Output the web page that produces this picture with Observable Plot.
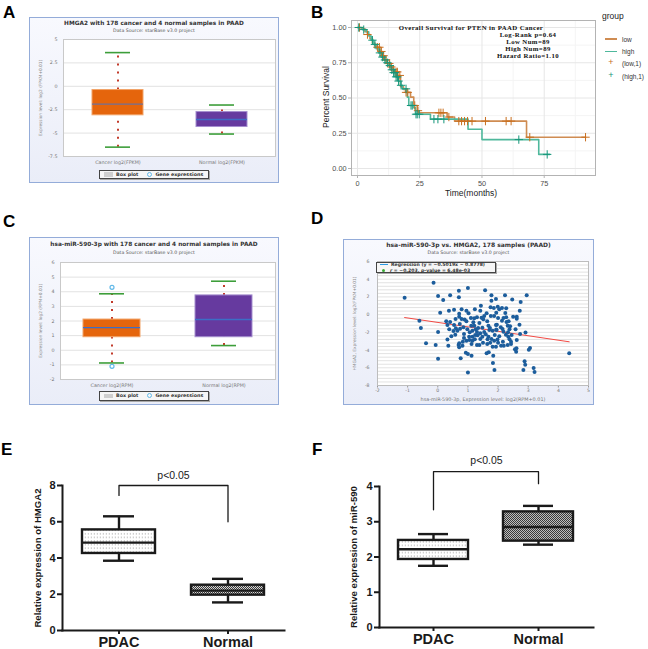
<!DOCTYPE html>
<html><head><meta charset="utf-8">
<script src="https://cdn.jsdelivr.net/npm/d3@7"></script>
<script src="https://cdn.jsdelivr.net/npm/@observablehq/plot@0.6"></script>
<style>
html,body{margin:0;padding:0;background:#fff;overflow:hidden;}
#root{position:relative;width:648px;height:649px;overflow:hidden;font-family:"Liberation Sans",Arial,sans-serif;}
.t{position:absolute;white-space:nowrap;line-height:1;}
.frame{position:absolute;box-sizing:border-box;border:1px solid #94acd9;background:linear-gradient(180deg,#f8f9fe 0%,#eaedf8 100%);}
.lg{position:absolute;box-sizing:border-box;border:1px solid #444;background:#f6f6f6;font:bold 4.8px "DejaVu Sans",sans-serif;color:#333;display:flex;align-items:center;padding:0 4px;box-shadow:1px 1px 0 #aaa;}
.letter{position:absolute;font:bold 17px "Liberation Sans",Arial,sans-serif;line-height:17px;color:#000;}
</style></head>
<body><div id="root"></div>
<script>
// ---------------- DATA ----------------
// Panel A: HMGA2 (starBase)
const aGroups = ["Cancer log2(FPKM)", "Normal log2(FPKM)"];
const aLow = [-6.5, -5.1];
const aQ1 = [-3.1, -4.35];
const aMedian = [-1.9, -3.55];
const aQ3 = [-0.4, -2.75];
const aHigh = [3.6, -2.0];
const aTicks = [5, 2.5, 0, -2.5, -5, -7.5];

// Panel C: hsa-miR-590-3p (starBase)
const cGroups = ["Cancer log2(RPM)", "Normal log2(RPM)"];
const cLow = [-0.87, 0.32];
const cQ1 = [0.89, 0.89];
const cMedian = [1.55, 2.1];
const cQ3 = [2.1, 3.75];
const cHigh = [3.86, 4.72];
const cOutGroup = ["Cancer log2(RPM)", "Cancer log2(RPM)"];
const cOutValue = [4.3, -1.1];
const cTicks = [6, 5, 4, 3, 2, 1, 0, -1, -2];

// Panel B: Kaplan-Meier (step times / survival after step)
const lowTime = [0, 1.5, 3, 4, 5, 6, 7, 8, 9, 10, 11, 12, 13, 14, 15, 16.2, 17.3, 18.5, 19.3, 21.3, 22.6, 24, 24.6, 36, 39, 67.9, 91.6];
const lowSurv = [1, 0.99, 0.97, 0.95, 0.92, 0.89, 0.87, 0.86, 0.83, 0.80, 0.77, 0.745, 0.72, 0.70, 0.685, 0.66, 0.58, 0.56, 0.54, 0.506, 0.447, 0.41, 0.395, 0.365, 0.336, 0.222, 0.222];
const highTime = [0, 2, 3.5, 4.5, 5.5, 6.5, 7.5, 8.5, 9.5, 10.5, 11.5, 12.5, 13.5, 14.5, 15.5, 16.3, 17.3, 18, 20, 20.6, 22.6, 23.3, 29.3, 44.4, 50, 72.8, 77.2];
const highSurv = [1, 0.985, 0.97, 0.94, 0.91, 0.88, 0.85, 0.82, 0.79, 0.77, 0.75, 0.73, 0.70, 0.68, 0.65, 0.62, 0.59, 0.565, 0.506, 0.447, 0.43, 0.385, 0.35, 0.278, 0.205, 0.10, 0.10];
const lowCensor = [0.8, 4, 8, 8.8, 9.6, 10.5, 11.5, 12.8, 13.6, 14.5, 15.5, 16, 17, 19.5, 20.2, 23, 24.3, 32.7, 33.5, 34.4, 36.7, 40.7, 41.8, 43, 44.2, 46, 51.4, 59.7, 61.7, 69.2, 91.6];
const highCensor = [0.5, 2.5, 6, 7, 9, 10, 11, 12, 13, 13.8, 14.5, 15, 15.5, 16, 16.5, 17.5, 19.5, 21.5, 22, 23.5, 24, 24.8, 30.7, 32.3, 34.7, 64.8, 76.2];
const kmXTicks = [0, 25, 50, 75];
const kmYTicks = [0, 0.25, 0.5, 0.75, 1];

// Panel D: scatter miR-590-3p (x) vs HMGA2 (y)
const mirX = [-1.1,-0.14,0.01,0.18,0.41,0.70,0.70,1.0,1.57,1.78,2.23,2.47,2.95,2.75,1.78,1.93,0.08,0.37,0.54,0.79,0.95,1.23,1.43,1.41,1.75,1.86,1.99,2.13,2.27,2.72,1.62,1.02,0.71,2.62,2.62,-0.61,-0.56,-0.39,-0.07,0.01,0.01,0.28,0.32,0.38,0.41,0.54,0.45,0.35,0.69,0.71,0.82,0.76,0.93,1.0,1.12,1.0,0.89,0.85,0.59,0.71,0.79,0.73,0.60,0.74,0.52,0.87,0.65,1.04,1.06,1.15,1.11,1.21,1.26,1.30,1.34,1.32,1.23,1.15,1.30,1.38,1.50,1.64,1.74,1.82,1.93,1.62,1.69,1.84,1.83,1.88,2.10,2.19,2.32,2.38,2.43,2.56,2.60,2.61,2.88,2.90,2.84,3.06,3.02,3.18,3.21,4.36,2.91,2.73,2.71,2.58,2.38,2.33,2.34,2.26,2.32,2.28,2.13,2.18,2.27,2.00,1.96,2.09,1.95,1.89,1.82,1.71,1.68,1.64,1.76,1.87,1.51,1.54,1.45,1.38,1.48,1.54,1.59,1.68,1.78,1.65,1.48,1.41,1.87,1.98,2.0,2.16,2.04,2.18,1.10,1.21,1.18,0.95,0.98,0.95,0.83,0.71,0.32,1.12,2.15,2.45,2.40,1.94,1.73,1.93,1.41,1.24,1.15,1.05,0.87,0.58,2.04,2.50,1.94,2.24,2.35,2.43,2.62,1.30];
const hmgY = [1.9,3.6,2.1,1.66,2.2,2.7,1.96,3.0,2.75,2.2,2.2,1.7,2.18,1.43,1.58,1.77,0.22,0.45,0.56,0.6,0.45,0.6,1.0,0.45,0.83,0.75,0.9,0.75,0.72,0.45,0.15,0.15,0.11,-0.23,-0.45,-0.68,-1.5,-3.24,-3.43,-1.96,-4.97,-0.75,-1.17,-1.66,-0.83,-1.17,-2.45,-3.5,-3.43,-3.69,-3.5,-4.93,-4.29,-4.44,-4.63,-6.52,-0.56,-1.43,-0.49,-0.23,-0.49,-1.05,-1.54,-1.58,-1.85,-2.18,-1.81,-2.49,-2.0,-1.81,-1.24,-1.24,-1.66,-1.96,-1.5,-2.34,-2.79,-2.94,-3.43,-3.43,-3.16,-3.31,-3.16,-3.62,-3.62,-4.37,-4.26,-4.63,-5.46,-6.25,-3.5,-3.5,-3.43,-2.79,-3.05,-3.92,-4.18,-3.8,-5.27,-5.65,-6.25,-3.77,-3.95,-6.03,-6.48,-4.37,-2.03,-2.18,-1.13,-1.66,-1.66,-2.0,-2.49,-2.26,-1.24,-0.83,-0.68,-0.38,-0.30,-0.38,-1.13,-1.43,-1.73,-2.30,-1.81,-1.73,-1.24,-0.75,-0.15,-0.15,-0.53,-0.15,-0.34,-0.94,-1.47,-1.96,-2.22,-2.49,-2.75,-2.79,-2.49,-2.11,-2.94,-2.82,-3.16,-3.05,-2.45,-1.92,-0.38,-0.41,-0.87,-0.75,-1.66,-2.94,-3.05,-3.24,-2.82,-3.31,-1.62,-2.3,-1.32,-1.69,-1.51,-1.17,-2.75,-2.30,-2.49,-2.86,-2.64,-2.26,0.6,-0.23,0.22,0.19,-0.75,-3.31,-2.86,-0.30];
const regSlope = -0.5019;
const regIntercept = -0.8778;
const dXTicks = [-2, -1, 0, 1, 2, 3, 4, 5];
const dYTicks = [6, 4, 2, 0, -2, -4, -6, -8];

// Panel E: HMGA2 qPCR
const eGroups = ["PDAC", "Normal"];
const eLow = [3.85, 1.55];
const eQ1 = [4.25, 1.95];
const eMedian = [4.85, 2.2];
const eQ3 = [5.55, 2.5];
const eHigh = [6.3, 2.85];
const eTicks = [0, 2, 4, 6, 8];

// Panel F: miR-590 qPCR
const fGroups = ["PDAC", "Normal"];
const fLow = [1.75, 2.35];
const fQ1 = [1.93, 2.45];
const fMedian = [2.22, 2.85];
const fQ3 = [2.47, 3.28];
const fHigh = [2.65, 3.45];
const fTicks = [0, 1, 2, 3, 4];

// ---------------- HELPERS ----------------
const root = document.getElementById("root");
function addText(str, x, y, css, anchor = "middle", rot = 0) {
  const d = document.createElement("div");
  d.className = "t";
  d.textContent = str;
  const tx = anchor === "middle" ? "-50%" : anchor === "end" ? "-100%" : "0";
  d.style.cssText += `left:${x}px;top:${y}px;transform:translate(${tx},-50%)${rot ? ` rotate(${rot}deg)` : ""};${css}`;
  root.appendChild(d);
  return d;
}
function addDiv(cls, x, y, w, h, html = "") {
  const d = document.createElement("div");
  d.className = cls;
  d.style.left = x + "px"; d.style.top = y + "px";
  if (w != null) d.style.width = w + "px";
  if (h != null) d.style.height = h + "px";
  d.innerHTML = html;
  root.appendChild(d);
  return d;
}
function addSvg(svg, x, y) {
  svg.style.position = "absolute";
  svg.style.left = x + "px";
  svg.style.top = y + "px";
  root.appendChild(svg);
}

// ---------- starBase box plots (A, C) ----------
function starBox(o) {
  const rows = o.groups.map((g, i) => ({g, lo: o.low[i], q1: o.q1[i], med: o.median[i], q3: o.q3[i], hi: o.high[i],
    fill: ["#e5650c", "#663a9f"][i], edge: ["#f2a468", "#a58fcf"][i], medColor: o.medColors[i]}));
  const out = (o.outGroup || []).map((g, i) => ({g, v: o.outValue[i]}));
  const tiny = {fontFamily: "DejaVu Sans, sans-serif", fontSize: 4.8, fill: "#777"};
  return Plot.plot({
    width: o.width, height: o.height,
    marginLeft: o.ml, marginRight: o.mr, marginTop: o.mt, marginBottom: o.mb,
    style: {background: "transparent", overflow: "visible"},
    x: {domain: o.groups, paddingInner: o.pi, paddingOuter: o.po, axis: null},
    y: {domain: o.yDomain, axis: null},
    color: {type: "identity"},
    marks: [
      Plot.frame({fill: "#ffffff", stroke: "none"}),
      Plot.ruleY(o.ticks, {stroke: "#e2e2e2"}),
      Plot.axisY(o.ticks, {tickSize: 0, tickPadding: 6, tickFormat: d => String(d), label: null, ...tiny}),
      Plot.axisX({tickSize: 0, tickPadding: 4, label: null, ...tiny}),
      Plot.ruleX(rows, {x: "g", y1: "q3", y2: "hi", stroke: "#c23b2b", strokeWidth: 2, strokeDasharray: "2,6"}),
      Plot.ruleX(rows, {x: "g", y1: "lo", y2: "q1", stroke: "#c23b2b", strokeWidth: 2, strokeDasharray: "2,6"}),
      Plot.barY(rows, {x: "g", y1: "q1", y2: "q3", fill: "fill", stroke: "edge", strokeWidth: 1}),
      Plot.tickY(rows, {x: "g", y: "med", stroke: "medColor", strokeWidth: 1.4}),
      Plot.tickY(rows, {x: "g", y: "hi", stroke: "#3d9e3a", strokeWidth: 1.6, insetLeft: o.capInset, insetRight: o.capInset}),
      Plot.tickY(rows, {x: "g", y: "lo", stroke: "#3d9e3a", strokeWidth: 1.6, insetLeft: o.capInset, insetRight: o.capInset}),
      Plot.dot(out, {x: "g", y: "v", r: 2, stroke: "#62b9e8", fill: "#ffffff", strokeWidth: 1.2}),
      Plot.frame({stroke: "#c9c9c9"}),
      Plot.text([o.yLabel], {frameAnchor: "left", textAnchor: "middle", rotate: -90, dx: o.labelDx, text: d => d, fontFamily: "DejaVu Sans, sans-serif", fontSize: 4.3, fill: "#888"})
    ]
  });
}
function starLegend(x, y) {
  addDiv("lg", x, y, 110, 9.5,
    `<span style="display:inline-block;width:9px;height:4.5px;background:#cfcfcf;margin-right:3px"></span>Box plot` +
    `<span style="display:inline-block;width:3px;height:3px;border-radius:50%;border:0.8px solid #62b9e8;margin:0 3px 0 9px"></span>Gene expressions`);
}

// ---------- Panel A ----------
addDiv("frame", 29, 17, 250, 166);
addSvg(starBox({groups: aGroups, low: aLow, q1: aQ1, median: aMedian, q3: aQ3, high: aHigh, ticks: aTicks,
  yDomain: [-7.5, 5], medColors: ["#6f7199", "#3f6cc4"], width: 250, height: 166, ml: 34, mr: 4, mt: 22, mb: 27,
  pi: 0.51, po: 0.27, capInset: 13, yLabel: "Expression level: log2 (FPKM+0.01)", labelDx: -23}), 29, 17);
addText("HMGA2 with 178 cancer and 4 normal samples in PAAD", 154, 22.5, 'font:bold 5.8px "DejaVu Sans",sans-serif;color:#333;');
addText("Data Source: starBase v3.0 project", 154, 30, 'font:4.7px "DejaVu Sans",sans-serif;color:#555;');
starLegend(99, 169.5);

// ---------- Panel C ----------
addDiv("frame", 29, 237, 250, 168);
addSvg(starBox({groups: cGroups, low: cLow, q1: cQ1, median: cMedian, q3: cQ3, high: cHigh, ticks: cTicks,
  outGroup: cOutGroup, outValue: cOutValue,
  yDomain: [-2, 6], medColors: ["#3c6ec6", "#3c6ec6"], width: 250, height: 168, ml: 31, mr: 4, mt: 25, mb: 26,
  pi: 0.49, po: 0.2, capInset: 16, yLabel: "Expression level: log2 (RPM+0.01)", labelDx: -20}), 29, 237);
addText("hsa-miR-590-3p with 178 cancer and 4 normal samples in PAAD", 154, 244, 'font:bold 5.8px "DejaVu Sans",sans-serif;color:#333;');
addText("Data Source: starBase v3.0 project", 154, 252, 'font:4.7px "DejaVu Sans",sans-serif;color:#555;');
starLegend(99, 391);

// ---------- Panel D ----------
{
  const n = Math.min(mirX.length, hmgY.length);
  const pts = d3.range(n).map(i => ({x: mirX[i], y: hmgY[i]}));
  const [xMin, xMax] = d3.extent(pts, d => d.x);
  const reg = [xMin, xMax].map(x => ({x, y: regSlope * x + regIntercept}));
  const tiny = {fontFamily: "DejaVu Sans, sans-serif", fontSize: 4.6, fill: "#777"};
  addDiv("frame", 343, 239, 251, 166);
  addSvg(Plot.plot({
    width: 251, height: 166, marginLeft: 34, marginRight: 6, marginTop: 22, marginBottom: 20,
    style: {background: "transparent", overflow: "visible"},
    x: {domain: [-2, 5], axis: null},
    y: {domain: [-8, 6], axis: null},
    marks: [
      Plot.frame({fill: "#ffffff", stroke: "none"}),
      Plot.ruleY(d3.range(-8, 6.001, 0.4), {stroke: "#dadada", strokeWidth: 0.8}),
      Plot.axisX(dXTicks, {tickSize: 2.5, tickPadding: 0.5, stroke: "#999", label: null, tickFormat: d => String(d), ...tiny}),
      Plot.axisY(dYTicks, {tickSize: 0, tickPadding: 8, label: null, tickFormat: d => String(d), ...tiny}),
      Plot.line(reg, {x: "x", y: "y", stroke: "#f24a44", strokeWidth: 1}),
      Plot.dot(pts, {x: "x", y: "y", r: 2, fill: "#1c5d9c"}),
      Plot.frame({stroke: "#bdbdbd"}),
      Plot.text(["HMGA2, Expression level: log2(FPKM+0.01)"], {frameAnchor: "left", textAnchor: "middle", rotate: -90, dx: -23, text: d => d, fontFamily: "DejaVu Sans, sans-serif", fontSize: 4.3, fill: "#888"}),
      Plot.text(["hsa-miR-590-3p, Expression level: log2(RPM+0.01)"], {frameAnchor: "bottom", lineAnchor: "middle", dy: 13.5, text: d => d, fontFamily: "DejaVu Sans, sans-serif", fontSize: 4.9, fill: "#777"})
    ]
  }), 343, 239);
  addText("hsa-miR-590-3p vs. HMGA2, 178 samples (PAAD)", 468.5, 244, 'font:bold 6px "DejaVu Sans",sans-serif;color:#333;');
  addText("Data Source: starBase v3.0 project", 468.5, 252, 'font:4.7px "DejaVu Sans",sans-serif;color:#555;');
  addDiv("lg", 376, 262, 120, 11,
    `<div style="display:flex;flex-direction:column;gap:1.2px;font:bold 4.6px 'DejaVu Sans',sans-serif;">` +
    `<div><span style="display:inline-block;width:8px;height:1px;background:#2b9be6;vertical-align:middle;margin-right:3px"></span>Regression (y = −0.5019x − 0.8778)</div>` +
    `<div><span style="display:inline-block;width:3px;height:3px;border-radius:50%;background:#3aaa35;vertical-align:middle;margin:0 5px 0 2px"></span><i>r</i> = −0.203, <i>p</i>-value = 6.48e-03</div></div>`
  ).style.padding = "0 3px";
}

// ---------- Panel B: KM ----------
{
  const survAt = (times, survs, t) => { let s = survs[0]; for (let i = 0; i < times.length; i++) if (times[i] <= t) s = survs[i]; return s; };
  const low = lowTime.map((t, i) => ({t, s: lowSurv[i]}));
  const high = highTime.map((t, i) => ({t, s: highSurv[i]}));
  const lowC = lowCensor.map(t => ({t, s: survAt(lowTime, lowSurv, t)}));
  const highC = highCensor.map(t => ({t, s: survAt(highTime, highSurv, t)}));
  const axisFont = {fontFamily: "Liberation Sans, Arial, sans-serif", fontSize: 7.3, fill: "#4d4d4d"};
  addSvg(Plot.plot({
    width: 328, height: 200, marginLeft: 31, marginRight: 53, marginTop: 20, marginBottom: 25,
    style: {background: "transparent", overflow: "visible"},
    x: {domain: [-2.41, 95.6], axis: null},
    y: {domain: [-0.0496, 1.0496], axis: null},
    marks: [
      Plot.frame({fill: "#ffffff", stroke: "none"}),
      Plot.ruleX([12.5, 37.5, 62.5, 87.5], {stroke: "#f4f4f4"}),
      Plot.ruleY([0.125, 0.375, 0.625, 0.875], {stroke: "#f4f4f4"}),
      Plot.ruleX(kmXTicks, {stroke: "#e6e6e6"}),
      Plot.ruleY(kmYTicks, {stroke: "#e6e6e6"}),
      Plot.axisX(kmXTicks, {tickSize: 3, tickPadding: 2, stroke: "#b3b3b3", label: null, ...axisFont}),
      Plot.axisY(kmYTicks, {tickSize: 3, tickPadding: 2, stroke: "#b3b3b3", label: null, tickFormat: d3.format(".2f"), ...axisFont}),
      Plot.line(low, {x: "t", y: "s", curve: "step-after", stroke: "#cf8c52", strokeWidth: 1.6}),
      Plot.line(high, {x: "t", y: "s", curve: "step-after", stroke: "#4fb89c", strokeWidth: 1.6}),
      Plot.dot(lowC, {x: "t", y: "s", symbol: "plus", r: 2.8, stroke: "#c86e1e", strokeWidth: 1}),
      Plot.dot(highC, {x: "t", y: "s", symbol: "plus", r: 2.8, stroke: "#16967a", strokeWidth: 1}),
      Plot.frame({stroke: "#b3b3b3"})
    ]
  }), 320, 0);
  const serif = 'font:bold 6.8px "Liberation Serif","Times New Roman",serif;letter-spacing:0.4px;color:#111;';
  addText("Overall Survival for PTEN in PAAD Cancer", 471, 27, serif);
  addText("Log-Rank p=0.64", 528, 34, serif);
  addText("Low Num=89", 528, 41, serif);
  addText("High Num=89", 528, 48, serif);
  addText("Hazard Ratio=1.10", 528, 55, serif);
  addText("Time(months)", 471, 193, 'font:8.5px "Liberation Sans",Arial,sans-serif;color:#222;');
  addText("Percent Survival", 326, 97, 'font:8.5px "Liberation Sans",Arial,sans-serif;color:#222;', "middle", -90);
  addText("group", 602, 16, 'font:8.5px "Liberation Sans",Arial,sans-serif;color:#222;', "start");
  const keyFont = 'font:6.5px "Liberation Sans",Arial,sans-serif;color:#333;';
  addDiv("t", 605, 38, 12, 1.6).style.background = "#cf8c52";
  addText("low", 622, 38.8, keyFont, "start");
  addDiv("t", 605, 50.5, 12, 1.6).style.background = "#4fb89c";
  addText("high", 622, 51.3, keyFont, "start");
  addText("+", 611, 62, 'font:9px "Liberation Sans",Arial,sans-serif;color:#c86e1e;');
  addText("(low,1)", 622, 62.5, keyFont, "start");
  addText("+", 611, 75, 'font:9px "Liberation Sans",Arial,sans-serif;color:#16967a;');
  addText("(high,1)", 622, 75.5, keyFont, "start");
}

// ---------- GraphPad box plots (E, F) ----------
function gpBox(o) {
  const rows = o.groups.map((g, i) => ({g, lo: o.low[i], q1: o.q1[i], med: o.median[i], q3: o.q3[i], hi: o.high[i],
    fill: `url(#${o.id}${i === 0 ? "light" : "dark"})`}));
  const bracket = [
    {g: o.groups[0], v: o.bracket[0]}, {g: o.groups[0], v: o.bracket[1]},
    {g: o.groups[1], v: o.bracket[1]}, {g: o.groups[1], v: o.bracket[2]}
  ];
  const ink = "#1a1a1a";
  const svg = Plot.plot({
    width: o.width, height: o.height, marginLeft: o.ml, marginRight: o.mr, marginTop: o.mt, marginBottom: o.mb,
    style: {background: "transparent", overflow: "visible", fontFamily: "Liberation Sans, Arial, sans-serif"},
    x: {domain: o.groups, paddingInner: 0.33, paddingOuter: 0.175, axis: null},
    y: {domain: o.yDomain, axis: null},
    color: {type: "identity"},
    marks: [
      Plot.ruleX(rows, {x: "g", y1: "lo", y2: "hi", stroke: ink, strokeWidth: 2.4}),
      Plot.barY(rows, {x: "g", y1: "q1", y2: "q3", fill: "fill", stroke: ink, strokeWidth: 2.4}),
      Plot.tickY(rows, {x: "g", y: "med", stroke: ink, strokeWidth: 2.4}),
      Plot.tickY(rows, {x: "g", y: "lo", stroke: ink, strokeWidth: 2.4, insetLeft: o.capInset, insetRight: o.capInset}),
      Plot.tickY(rows, {x: "g", y: "hi", stroke: ink, strokeWidth: 2.4, insetLeft: o.capInset, insetRight: o.capInset}),
      Plot.frame({anchor: "left", stroke: ink, strokeWidth: 2}),
      Plot.frame({anchor: "bottom", stroke: ink, strokeWidth: 2}),
      Plot.axisY(o.ticks, {tickSize: 5, tickPadding: 2, stroke: ink, strokeWidth: 2, fill: ink, fontSize: 11, fontWeight: "bold", label: null}),
      Plot.axisX({tickSize: 4, tickPadding: 2, stroke: ink, strokeWidth: 2, fill: ink, fontSize: 14.5, fontWeight: "bold", label: null}),
      Plot.line(bracket, {x: "g", y: "v", stroke: ink, strokeWidth: 1.3}),
      Plot.text([o.pText], {y: [o.pY], text: d => d, fontSize: 10.5, fill: ink}),
      Plot.text([o.yLabel], {frameAnchor: "left", textAnchor: "middle", rotate: -90, dx: o.labelDx, text: d => d, fontSize: 9.6, fontWeight: "bold", fill: ink})
    ]
  });
  const defs = d3.select(svg).insert("defs", ":first-child");
  const p1 = defs.append("pattern").attr("id", o.id + "light").attr("patternUnits", "userSpaceOnUse").attr("width", 3).attr("height", 3.6);
  p1.append("rect").attr("width", 3).attr("height", 3.6).attr("fill", "#ffffff");
  p1.append("rect").attr("x", 0.8).attr("y", 1.3).attr("width", 1.1).attr("height", 1).attr("fill", "#a0a0a0");
  const p2 = defs.append("pattern").attr("id", o.id + "dark").attr("patternUnits", "userSpaceOnUse").attr("width", 2).attr("height", 2);
  p2.append("rect").attr("width", 2).attr("height", 2).attr("fill", o.darkBg);
  p2.append("rect").attr("width", 1).attr("height", 1).attr("fill", "#3a3a3a");
  p2.append("rect").attr("x", 1).attr("y", 1).attr("width", 1).attr("height", 1).attr("fill", "#3a3a3a");
  return svg;
}

addSvg(gpBox({id: "e", groups: eGroups, low: eLow, q1: eQ1, median: eMedian, q3: eQ3, high: eHigh, ticks: eTicks,
  yDomain: [0, 8], width: 300, height: 189, ml: 62, mr: 16, mt: 25, mb: 19, capInset: 21,
  bracket: [7.45, 8, 6.0], pText: "p<0.05", pY: 8.55, yLabel: "Relative expression of HMGA2", labelDx: -25, darkBg: "#d4d4d4"}), 0, 460);
addSvg(gpBox({id: "f", groups: fGroups, low: fLow, q1: fQ1, median: fMedian, q3: fQ3, high: fHigh, ticks: fTicks,
  yDomain: [0, 4], width: 328, height: 199, ml: 59, mr: 55, mt: 36, mb: 22, capInset: 20,
  bracket: [3.34, 4.42, 4.08], pText: "p<0.05", pY: 4.72, yLabel: "Relative expression of miR-590", labelDx: -26, darkBg: "#bdbdbd"}), 320, 450);

// ---------- panel letters ----------
[["A", 3, 4], ["B", 311, 4], ["C", 3, 213], ["D", 311, 210], ["E", 1, 441], ["F", 312, 441]].forEach(([s, x, y]) => {
  const d = addDiv("letter", x, y); d.textContent = s;
});
</script>
</body></html>
